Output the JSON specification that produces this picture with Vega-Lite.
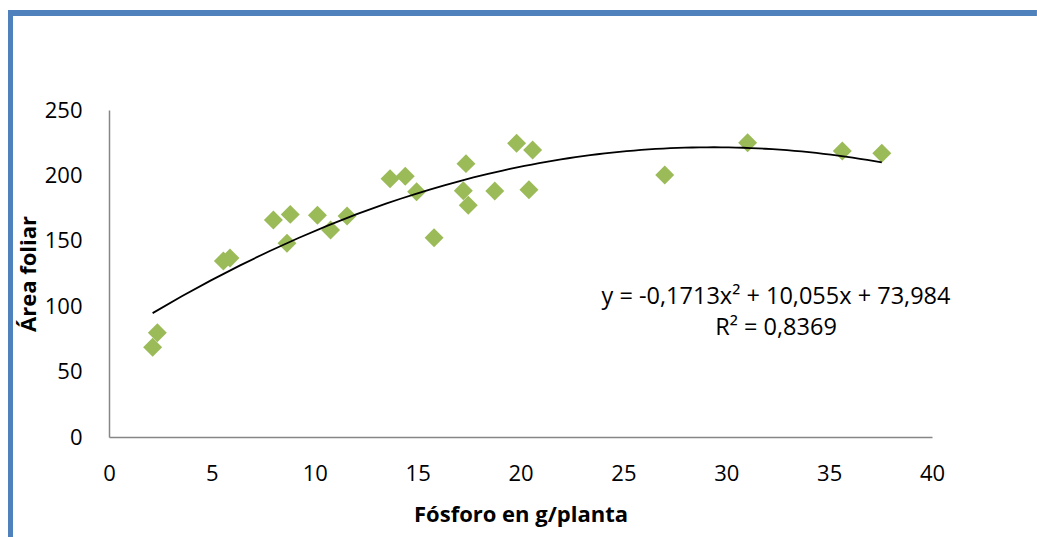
{
  "$schema": "https://vega.github.io/schema/vega-lite/v6.json",
  "width": 823,
  "height": 327,
  "autosize": {"type": "none"},
  "padding": {"left": 109, "top": 110, "right": 105, "bottom": 100},
  "background": "white",
  "config": {
    "view": {"stroke": null},
    "font": "Open Sans",
    "axis": {
      "domainColor": "#868686",
      "domainWidth": 1.5,
      "ticks": false,
      "tickSize": 0,
      "grid": false,
      "labelFlush": false,
      "labelOverlap": false,
      "labelFont": "Open Sans",
      "labelFontSize": 22,
      "labelColor": "#000000",
      "titleFont": "Open Sans",
      "titleFontSize": 22,
      "titleFontWeight": "bold",
      "titleColor": "#000000"
    },
    "axisX": {"labelPadding": 26, "titlePadding": 20},
    "axisY": {"labelPadding": 27, "titlePadding": 4}
  },
  "datasets": {
    "points": [
      {"fosforo": 2.12, "area": 68.6},
      {"fosforo": 2.35, "area": 79.7},
      {"fosforo": 5.56, "area": 134.6},
      {"fosforo": 5.88, "area": 136.8},
      {"fosforo": 7.99, "area": 165.9},
      {"fosforo": 8.81, "area": 170.2},
      {"fosforo": 8.65, "area": 148.1},
      {"fosforo": 10.13, "area": 169.5},
      {"fosforo": 10.77, "area": 158.3},
      {"fosforo": 11.57, "area": 169.0},
      {"fosforo": 13.66, "area": 197.5},
      {"fosforo": 14.4, "area": 199.3},
      {"fosforo": 14.95, "area": 187.5},
      {"fosforo": 15.8, "area": 152.4},
      {"fosforo": 17.35, "area": 209.0},
      {"fosforo": 17.22, "area": 188.3},
      {"fosforo": 17.46, "area": 177.1},
      {"fosforo": 18.75, "area": 188.1},
      {"fosforo": 19.81, "area": 224.5},
      {"fosforo": 20.59, "area": 219.4},
      {"fosforo": 20.41, "area": 189.1},
      {"fosforo": 27.01, "area": 200.3},
      {"fosforo": 31.04, "area": 225.0},
      {"fosforo": 35.64, "area": 218.7},
      {"fosforo": 37.56, "area": 216.9}
    ],
    "single": [{}]
  },
  "layer": [
    {
      "data": {"name": "single"},
      "mark": {"type": "rule", "color": "#4f81bd", "strokeWidth": 6, "clip": false},
      "encoding": {
        "x": {"datum": -4.909, "type": "quantitative", "scale": {"domain": [0, 40]}},
        "x2": {"datum": 45.1},
        "y": {"datum": 324.2, "type": "quantitative", "scale": {"domain": [0, 250]}}
      }
    },
    {
      "data": {"name": "single"},
      "mark": {"type": "rule", "color": "#4f81bd", "strokeWidth": 5, "clip": false},
      "encoding": {
        "x": {"datum": -4.787, "type": "quantitative", "scale": {"domain": [0, 40]}},
        "y": {"datum": 326.5, "type": "quantitative", "scale": {"domain": [0, 250]}},
        "y2": {"datum": -76.5}
      }
    },
    {
      "data": {"name": "points"},
      "mark": {"type": "point", "shape": "diamond", "filled": true, "size": 360, "color": "#9bbb59", "opacity": 1},
      "encoding": {
        "x": {"field": "fosforo", "type": "quantitative", "scale": {"domain": [0, 40]}, "axis": {"values": [0, 5, 10, 15, 20, 25, 30, 35, 40], "title": "Fósforo en g/planta"}},
        "y": {"field": "area", "type": "quantitative", "scale": {"domain": [0, 250]}, "axis": {"values": [0, 50, 100, 150, 200, 250], "title": "Área foliar"}}
      }
    },
    {
      "data": {"name": "points"},
      "transform": [{"regression": "area", "on": "fosforo", "method": "poly", "order": 2}],
      "mark": {"type": "line", "color": "#000000", "strokeWidth": 1.8},
      "encoding": {
        "x": {"field": "fosforo", "type": "quantitative", "scale": {"domain": [0, 40]}, "axis": {"values": [0, 5, 10, 15, 20, 25, 30, 35, 40], "title": "Fósforo en g/planta"}},
        "y": {"field": "area", "type": "quantitative", "scale": {"domain": [0, 250]}, "axis": {"values": [0, 50, 100, 150, 200, 250], "title": "Área foliar"}}
      }
    },
    {
      "data": {"name": "single"},
      "mark": {"type": "text", "text": "y = -0,1713x² + 10,055x + 73,984", "font": "Open Sans", "fontSize": 23.5, "color": "#000000", "align": "center", "baseline": "middle", "clip": false},
      "encoding": {
        "x": {"datum": 32.42, "type": "quantitative", "scale": {"domain": [0, 40]}},
        "y": {"datum": 107.0, "type": "quantitative", "scale": {"domain": [0, 250]}}
      }
    },
    {
      "data": {"name": "single"},
      "mark": {"type": "text", "text": "R² = 0,8369", "font": "Open Sans", "fontSize": 23.5, "color": "#000000", "align": "center", "baseline": "middle", "clip": false},
      "encoding": {
        "x": {"datum": 32.42, "type": "quantitative", "scale": {"domain": [0, 40]}},
        "y": {"datum": 83.3, "type": "quantitative", "scale": {"domain": [0, 250]}}
      }
    }
  ]
}
